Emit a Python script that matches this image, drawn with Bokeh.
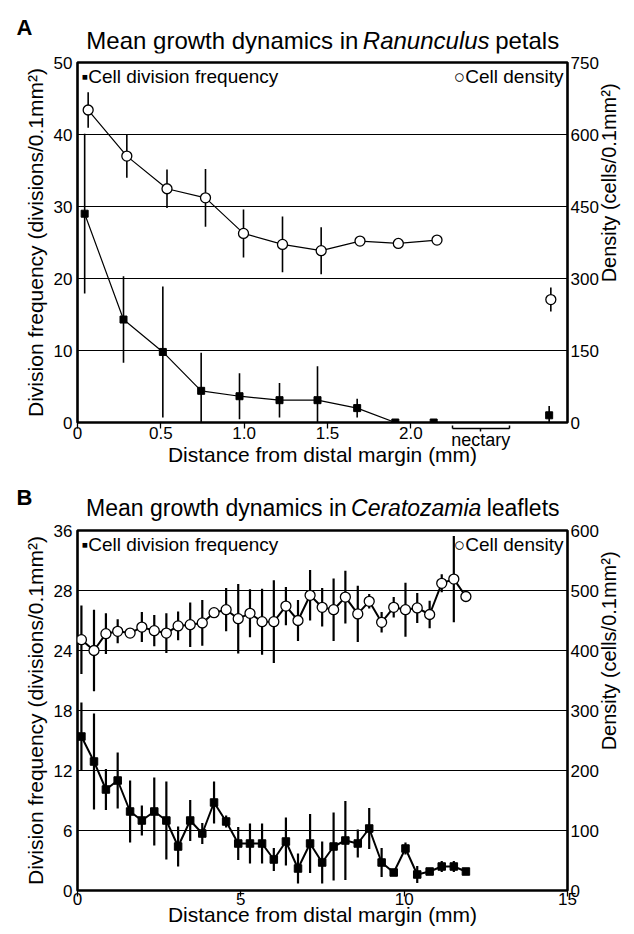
import math
import numpy as np
from bokeh.plotting import figure
from bokeh.models import Range1d, LinearAxis, FixedTicker, Label
from bokeh.layouts import column
from bokeh.embed import file_html
from bokeh.resources import INLINE

# ---------------- Panel A : Ranunculus petals ----------------
a_div_x = [0.043, 0.276, 0.512, 0.742, 0.972, 1.212, 1.44, 1.678, 1.907, 2.137, 2.83]
a_div_y = [29.0, 14.3, 9.8, 4.4, 3.65, 3.1, 3.1, 2.0, 0.0, 0.0, 1.0]
a_div_err = [11.1, 6.0, 9.1, 5.3, 3.2, 2.4, 4.7, 1.3, 0.0, 0.0, 1.3]
a_den_x = [0.064, 0.296, 0.537, 0.768, 0.996, 1.23, 1.462, 1.695, 1.925, 2.157, 2.84]
a_den_y = [651, 555, 487, 468, 394, 371, 358, 378, 373, 380, 256]
a_den_err = [37, 45, 40, 60, 50, 58, 49, 0, 0, 0, 25]
a_connected = 10          # the last point (nectary) is not joined
a_x_ticks = [0, 0.5, 1.0, 1.5, 2.0]
a_x_labels = {0: "0", 0.5: "0.5", 1: "1.0", 1.5: "1.5", 2: "2.0"}
a_left_ticks = [0, 10, 20, 30, 40, 50]
a_right_ticks = [0, 150, 300, 450, 600, 750]
a_x_range = (0, 2.94)
a_left_range = (0, 50)
a_right_range = (0, 750)
nectary_span = (2.25, 2.59)
nectary_text = "nectary"

# ---------------- Panel B : Ceratozamia leaflets ----------------
b_x = [0.12, 0.505, 0.87, 1.23, 1.61, 1.97, 2.35, 2.72, 3.08, 3.45, 3.82, 4.18, 4.55,
       4.92, 5.28, 5.65, 6.01, 6.38, 6.75, 7.12, 7.49, 7.84, 8.2, 8.58, 8.93, 9.31,
       9.68, 10.04, 10.4, 10.78, 11.15, 11.52, 11.89]
b_div_y = [15.4, 12.9, 10.1, 11.0, 7.9, 7.0, 7.9, 7.0, 4.4, 7.0, 5.7, 8.8, 6.9, 4.7, 4.7,
           4.7, 3.1, 4.9, 2.2, 4.7, 2.8, 4.4, 5.0, 4.7, 6.2, 2.8, 1.8, 4.2, 1.6, 1.9,
           2.4, 2.4, 1.9]
b_div_err = [3.4, 4.8, 2.05, 2.8, 3.1, 1.5, 3.4, 3.9, 2.0, 2.05, 1.05, 2.1, 0.6, 1.65, 2.0,
             2.0, 1.15, 2.4, 1.5, 2.95, 2.1, 3.4, 3.95, 1.4, 2.05, 1.45, 0.0, 0.6, 0.85,
             0.0, 0.55, 0.55, 0.0]
b_den_y = [418, 400, 428, 432, 429, 439, 433, 429, 441, 443, 446, 463, 468, 453, 462, 448,
           448, 474, 450, 492, 472, 468, 489, 461, 482, 447, 472, 468, 471, 460, 512,
           519, 490]
b_den_err = [57, 68, 34, 20, 0, 25, 26, 33, 24, 37, 38, 0, 36, 58, 40, 55, 69, 32, 34, 42,
             32, 52, 44, 47, 12, 17, 17, 45, 25, 23, 15, 72, 0]
b_x_ticks = [0, 5, 10, 15]
b_left_ticks = [0, 6, 12, 18, 24, 30, 36]
b_left_labels = {30: "28"}
b_right_ticks = [0, 100, 200, 300, 400, 500, 600]
b_x_range = (0, 15)
b_left_range = (0, 36)
b_right_range = (0, 600)

FONT = "Liberation Sans"
FRAME_W, FRAME_H = 494, 360
BORDER_L, BORDER_R = 77, 63
FIG_W = BORDER_L + FRAME_W + BORDER_R
X_LABEL = "Distance from distal margin (mm)"
LEFT_LABEL = "Division frequency (divisions/0.1mm\u00b2)"
RIGHT_LABEL = "Density (cells/0.1mm\u00b2)"

# Arial / Liberation Sans advance widths (1/1000 em) for title layout
ADV = {' ': 278, 'M': 833, 'e': 556, 'a': 556, 'n': 556, 'g': 556, 'r': 333, 'o': 556,
       'w': 722, 't': 278, 'h': 556, 'd': 556, 'y': 500, 'm': 833, 'i': 222, 'c': 500,
       's': 500, 'R': 722, 'u': 556, 'l': 222, 'p': 556, 'C': 722, 'z': 500, 'f': 278}


def text_w(s, px):
    return sum(ADV.get(ch, 556) for ch in s) * px / 1000.0


def style_axis_text(ax, size="17px"):
    ax.major_label_text_font = FONT
    ax.major_label_text_font_size = size
    ax.major_label_text_color = "black"
    ax.axis_label_text_font = FONT
    ax.axis_label_text_font_size = "21px"
    ax.axis_label_text_font_style = "normal"
    ax.axis_label_text_color = "black"
    ax.minor_tick_line_color = None
    ax.axis_line_color = None


def header(height, letter, letter_y, parts, title_y, title_px):
    # 1px borders top and bottom, so data y == pixels above the header's bottom edge
    h = figure(width=FIG_W, height=height, x_range=Range1d(0, FRAME_W),
               y_range=Range1d(1, height - 1), x_axis_type=None, y_axis_type=None,
               toolbar_location=None, output_backend="svg",
               min_border_left=BORDER_L, min_border_right=BORDER_R,
               min_border_top=1, min_border_bottom=1)
    h.outline_line_color = None
    h.background_fill_color = "white"
    h.border_fill_color = "white"
    # the panel letter, as the single tick label of a bare left axis
    la = LinearAxis(ticker=FixedTicker(ticks=[letter_y]),
                    major_label_overrides={letter_y: letter})
    style_axis_text(la, "22px")
    la.major_label_text_font_style = "bold"
    la.major_tick_out = 0
    la.major_tick_in = 0
    la.major_tick_line_color = None
    la.major_label_standoff = 45
    h.add_layout(la, "left")
    # title pieces (mixed upright / italic), centred over the frame
    total = sum(text_w(t, title_px) for t, _ in parts)
    xpos = (FRAME_W - total) / 2.0
    for t, style in parts:
        lead = len(t) - len(t.lstrip(' '))
        if t.strip():
            h.add_layout(Label(x=xpos + text_w(' ' * lead, title_px), y=title_y,
                               text=t.strip(), text_font=FONT,
                               text_font_size=f"{title_px}px", text_font_style=style,
                               text_color="black", text_baseline="middle",
                               text_align="left"))
        xpos += text_w(t, title_px)
    return h


def make_panel(x_range, left_range, right_range, x_ticks, x_labels, left_ticks,
               left_labels, right_ticks, height, border_bottom, simple_x=True):
    p = figure(width=FIG_W, height=height,
               x_range=Range1d(*x_range), y_range=Range1d(*left_range),
               output_backend="svg", toolbar_location=None,
               min_border_left=BORDER_L, min_border_right=BORDER_R,
               min_border_top=8, min_border_bottom=border_bottom)
    p.extra_y_ranges = {"dens": Range1d(*right_range)}
    p.background_fill_color = "white"
    p.border_fill_color = "white"
    p.outline_line_color = "black"
    p.outline_line_width = 2.6
    p.xgrid.grid_line_color = None
    p.ygrid.grid_line_color = "black"
    p.ygrid.grid_line_width = 1.1

    xa = p.xaxis[0]
    style_axis_text(xa)
    if simple_x:
        xa.ticker = FixedTicker(ticks=x_ticks)
        xa.major_label_overrides = x_labels
        xa.axis_label = X_LABEL
        xa.major_tick_out = 6
        xa.major_tick_in = 0
        xa.major_tick_line_width = 1.3
        xa.major_label_standoff = -4
        xa.axis_label_standoff = -5
    else:
        # tick marks only (as minor ticks, so that no labels are made)
        xa.ticker = FixedTicker(ticks=[], minor_ticks=x_ticks)
        xa.major_tick_out = 6
        xa.major_tick_in = 0
        xa.minor_tick_out = 6
        xa.minor_tick_in = 0
        xa.minor_tick_line_color = "black"
        xa.minor_tick_line_width = 1.3
        xa.major_label_standoff = 0

    ya = p.yaxis[0]
    ya.ticker = FixedTicker(ticks=left_ticks)
    ya.major_label_overrides = left_labels
    ya.axis_label = LEFT_LABEL
    style_axis_text(ya)
    ya.major_tick_out = 0
    ya.major_tick_in = 0
    ya.major_label_standoff = 5
    ya.axis_label_standoff = 4

    ra = LinearAxis(y_range_name="dens", ticker=FixedTicker(ticks=right_ticks))
    style_axis_text(ra)
    ra.major_tick_out = 0
    ra.major_tick_in = 0
    ra.major_label_standoff = 3
    p.add_layout(ra, "right")

    # right-hand title, written bottom-to-top like the reference
    rc = round(right_range[0] + 0.55 * (right_range[1] - right_range[0]), 1)
    rl = LinearAxis(y_range_name="dens", ticker=FixedTicker(ticks=[rc]),
                    major_label_overrides={rc: RIGHT_LABEL})
    style_axis_text(rl, "20px")
    rl.major_label_orientation = math.pi / 2
    rl.major_tick_out = 0
    rl.major_tick_in = 0
    rl.major_tick_line_color = None
    rl.major_label_standoff = 8
    p.add_layout(rl, "right")

    # legend texts (label y is the text's vertical centre)
    ppu_y = FRAME_H / (left_range[1] - left_range[0])
    ytop = left_range[1]
    p.add_layout(Label(x=x_range[0], y=ytop - 14 / ppu_y, x_offset=4,
                       text="\u25aaCell division frequency", text_font=FONT,
                       text_font_size="19px", text_color="black",
                       text_baseline="middle", text_align="left"))
    p.add_layout(Label(x=x_range[1], y=ytop - 14 / ppu_y, x_offset=-4,
                       text="\u25cbCell density", text_font=FONT,
                       text_font_size="19px", text_color="black",
                       text_baseline="middle", text_align="right"))
    return p


def errbars(p, x, y, e, width, **kw):
    x = np.asarray(x, float)
    y = np.asarray(y, float)
    e = np.asarray(e, float)
    m = e > 0
    p.segment(x0=x[m], y0=y[m] - e[m], x1=x[m], y1=y[m] + e[m],
              line_color="black", line_width=width, **kw)


# ---------------- panel A ----------------
ha = header(54, "A", 27, [("Mean growth dynamics in ", "normal"),
                          ("Ranunculus", "italic"), (" petals", "normal")], 14.5, 24)
pa = make_panel(a_x_range, a_left_range, a_right_range, a_x_ticks, a_x_labels,
                a_left_ticks, {}, a_right_ticks, 8 + FRAME_H + 50, 50, simple_x=False)

# brace over the nectary region: a bounded axis just below the tick marks,
# its single tick label is the word "nectary"
nx0, nx1 = nectary_span
nmid = round((nx0 + nx1) / 2, 3)
brace = LinearAxis(bounds=nectary_span,
                   ticker=FixedTicker(ticks=[nmid], minor_ticks=list(nectary_span)),
                   major_label_overrides={nmid: nectary_text})
style_axis_text(brace, "18px")
brace.axis_line_color = "black"
brace.axis_line_width = 1.5
brace.major_tick_in = 0
brace.major_tick_out = 3
brace.major_tick_line_color = "black"
brace.major_tick_line_width = 1.5
brace.minor_tick_in = 3
brace.minor_tick_out = 0
brace.minor_tick_line_color = "black"
brace.minor_tick_line_width = 1.5
brace.major_label_standoff = -2
pa.add_layout(brace, "below")

# numeric tick labels and the axis title (pulled up next to the tick marks)
lab_ax = LinearAxis(ticker=FixedTicker(ticks=a_x_ticks), axis_label=X_LABEL)
style_axis_text(lab_ax)
lab_ax.major_label_overrides = a_x_labels
lab_ax.major_tick_out = 0
lab_ax.major_tick_in = 0
lab_ax.major_tick_line_color = None
lab_ax.major_label_standoff = -26
lab_ax.axis_label_standoff = 1
pa.add_layout(lab_ax, "below")

errbars(pa, a_div_x, a_div_y, a_div_err, 1.6)
errbars(pa, a_den_x, a_den_y, a_den_err, 1.6, y_range_name="dens")
pa.line(a_div_x[:a_connected], a_div_y[:a_connected], line_color="black", line_width=1.2)
pa.line(a_den_x[:a_connected], a_den_y[:a_connected], line_color="black", line_width=1.2,
        y_range_name="dens")
pa.scatter(a_div_x, a_div_y, marker="square", size=7, color="black")
pa.scatter(a_den_x, a_den_y, marker="circle", size=10, fill_color="white",
           line_color="black", line_width=1.3, y_range_name="dens")

# ---------------- panel B ----------------
hb = header(50, "B", 25, [("Mean growth dynamics in ", "normal"),
                          ("Ceratozamia", "italic"), (" leaflets", "normal")], 14.5, 23)
pb = make_panel(b_x_range, b_left_range, b_right_range, b_x_ticks, {},
                b_left_ticks, b_left_labels, b_right_ticks, 8 + FRAME_H + 44, 44)
errbars(pb, b_x, b_div_y, b_div_err, 2.2)
errbars(pb, b_x, b_den_y, b_den_err, 2.2, y_range_name="dens")
pb.line(b_x, b_div_y, line_color="black", line_width=2)
pb.line(b_x, b_den_y, line_color="black", line_width=2, y_range_name="dens")
pb.scatter(b_x, b_div_y, marker="square", size=7.5, color="black")
pb.scatter(b_x, b_den_y, marker="circle", size=10, fill_color="white",
           line_color="black", line_width=1.3, y_range_name="dens")

layout = column(ha, pa, hb, pb, spacing=0)
open("out.html", "w").write(file_html(layout, INLINE))
